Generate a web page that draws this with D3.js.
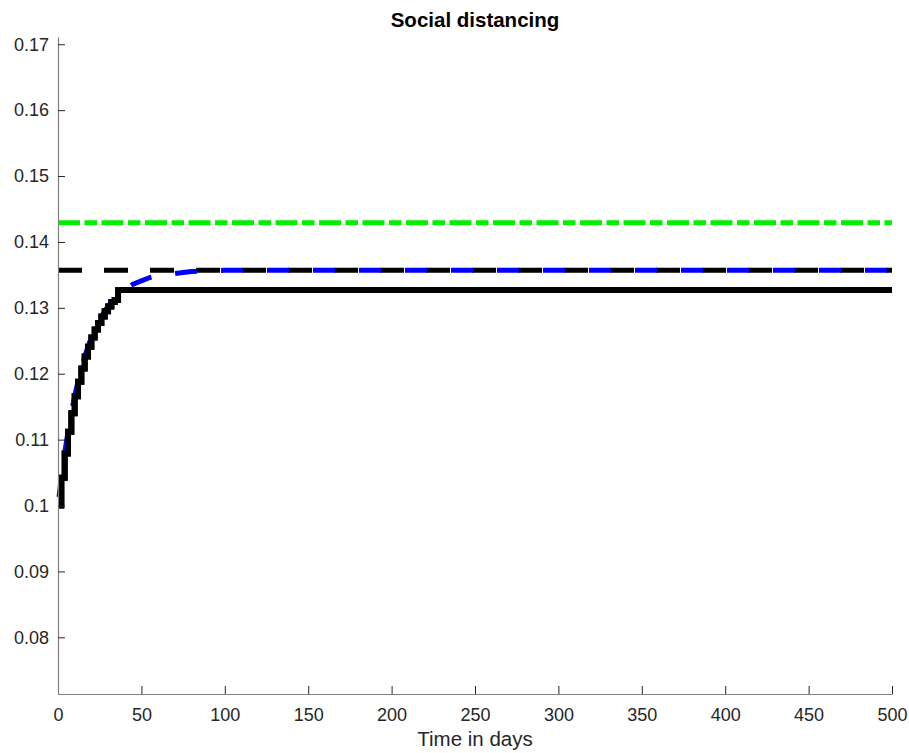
<!DOCTYPE html>
<html>
<head>
<meta charset="utf-8">
<script src="https://cdn.jsdelivr.net/npm/d3@7"></script>
<style>
  body { margin: 0; background: #fff; }
  svg text { font-family: "Liberation Sans", Arial, Helvetica, sans-serif; fill: #262626; }
</style>
</head>
<body>
<svg id="chart" width="909" height="753"></svg>
<script>
const WIDTH = 909;
const HEIGHT = 753;

const TITLE = 'Social distancing';
const X_LABEL = 'Time in days';
const X_TICKS = [0, 50, 100, 150, 200, 250, 300, 350, 400, 450, 500];
const Y_TICKS = [0.08, 0.09, 0.1, 0.11, 0.12, 0.13, 0.14, 0.15, 0.16, 0.17];
const X_DOMAIN = [0, 500];
const Y_DOMAIN = [0.0714, 0.1711];

// reference levels
const GREEN_LEVEL = 0.1429;
const DASHED_LEVEL = 0.1357;
const SOLID_LEVEL = 0.1327;

// smooth path (blue dashed)
const blueTimes = [0, 2, 4, 6, 8, 10, 12, 14, 16, 18, 20, 22, 24, 26, 28, 30, 32, 34, 36, 40, 45, 50, 55, 60, 70, 80, 90, 100, 500];
const blueValues = [0.1000, 0.1042, 0.1079, 0.1112, 0.1140, 0.1166, 0.1188, 0.1208, 0.1226, 0.1241, 0.1255, 0.1267,
  0.1277, 0.1287, 0.1295, 0.1302, 0.1309, 0.1314, 0.1319, 0.1328, 0.1336, 0.1341, 0.1346, 0.1349, 0.1352, 0.1355,
  0.1356, 0.1357, 0.1357];

// step path (solid black)
const stepTimes = [0, 2, 4, 6, 8, 10, 12, 14, 16, 18, 20, 22, 24, 26, 28, 30, 32, 34, 36, 500];
const stepValues = [0.1000, 0.1042, 0.1079, 0.1112, 0.1140, 0.1166, 0.1188, 0.1208, 0.1226, 0.1241, 0.1255, 0.1267,
  0.1277, 0.1287, 0.1295, 0.1302, 0.1309, 0.1312, 0.1327, 0.1327];

const margin = { left: 58, right: WIDTH - 892, top: 37, bottom: HEIGHT - 694 };

const DASH_ON = 24;
const DASH_PERIOD = 46;

const svg = d3.select('#chart');

const x = d3.scaleLinear().domain(X_DOMAIN).range([margin.left, WIDTH - margin.right]);
const y = d3.scaleLinear().domain(Y_DOMAIN).range([HEIGHT - margin.bottom, margin.top]);

const line = d3.line().x(d => x(d[0])).y(d => y(d[1]));
const stepLine = d3.line().x(d => x(d[0])).y(d => y(d[1])).curve(d3.curveStepAfter);

const plot = svg.append('g');

// green dash-dot level
plot.append('path')
  .datum(X_DOMAIN.map(t => [t, GREEN_LEVEL]))
  .attr('d', line)
  .attr('fill', 'none')
  .attr('stroke', '#00f000')
  .attr('stroke-width', 5)
  .attr('stroke-dasharray', '22 4.5 12.5 4.5');

// black dashed level
plot.append('path')
  .datum(X_DOMAIN.map(t => [t, DASHED_LEVEL]))
  .attr('d', line)
  .attr('fill', 'none')
  .attr('stroke', '#000')
  .attr('stroke-width', 5)
  .attr('stroke-dasharray', `${DASH_ON} ${DASH_PERIOD - DASH_ON}`);

// black solid step path
plot.append('path')
  .datum(stepTimes.map((t, i) => [t, stepValues[i]]))
  .attr('d', stepLine)
  .attr('fill', 'none')
  .attr('stroke', '#000')
  .attr('stroke-width', 6)
  .attr('stroke-linejoin', 'miter');

// blue dashed smooth path, phased so its dashes fill the black gaps on the flat part
const blue = plot.append('path')
  .datum(blueTimes.map((t, i) => [t, blueValues[i]]))
  .attr('d', line)
  .attr('fill', 'none')
  .attr('stroke', '#0000ff')
  .attr('stroke-width', 5)
  .attr('stroke-dasharray', `22 ${DASH_PERIOD - 22}`);

const L = blue.node().getTotalLength();
let off = (x(X_DOMAIN[1]) - L - (margin.left + DASH_ON + 1)) % DASH_PERIOD;
if (off < 0) off += DASH_PERIOD;
blue.attr('stroke-dashoffset', off);

// redraw the step path where it sits on top of the blue one near the start
plot.append('path')
  .datum(stepTimes.slice(0, -1).map((t, i) => [t, stepValues[i]]))
  .attr('d', stepLine)
  .attr('fill', 'none')
  .attr('stroke', '#000')
  .attr('stroke-width', 6);

// axes
const xAxis = d3.axisBottom(x)
  .tickValues(X_TICKS)
  .tickFormat(d3.format('d'))
  .tickSizeInner(-8)
  .tickSizeOuter(0)
  .tickPadding(14);

const yAxis = d3.axisLeft(y)
  .tickValues(Y_TICKS)
  .tickFormat(d3.format('~g'))
  .tickSizeInner(-7)
  .tickSizeOuter(0)
  .tickPadding(16);

const gx = svg.append('g')
  .attr('transform', `translate(0,${HEIGHT - margin.bottom})`)
  .call(xAxis);

const gy = svg.append('g')
  .attr('transform', `translate(${margin.left},0)`)
  .call(yAxis);

[gx, gy].forEach(g => {
  g.select('.domain').attr('stroke', '#808080').attr('stroke-width', 1.2);
  g.selectAll('.tick line').attr('stroke', '#262626').attr('stroke-width', 1);
  g.selectAll('.tick text')
    .attr('font-size', 18)
    .style('font-family', '"Liberation Sans", Arial, sans-serif')
    .attr('fill', '#262626');
});

gy.selectAll('.tick text').attr('x', -9);

// title and label
svg.append('text')
  .attr('x', (x(X_DOMAIN[0]) + x(X_DOMAIN[1])) / 2)
  .attr('y', 27)
  .attr('text-anchor', 'middle')
  .attr('font-size', 20.5)
  .attr('font-weight', 'bold')
  .style('fill', '#000')
  .text(TITLE);

svg.append('text')
  .attr('x', (x(X_DOMAIN[0]) + x(X_DOMAIN[1])) / 2)
  .attr('y', 746)
  .attr('text-anchor', 'middle')
  .attr('font-size', 20.5)
  .text(X_LABEL);
</script>
</body>
</html>
